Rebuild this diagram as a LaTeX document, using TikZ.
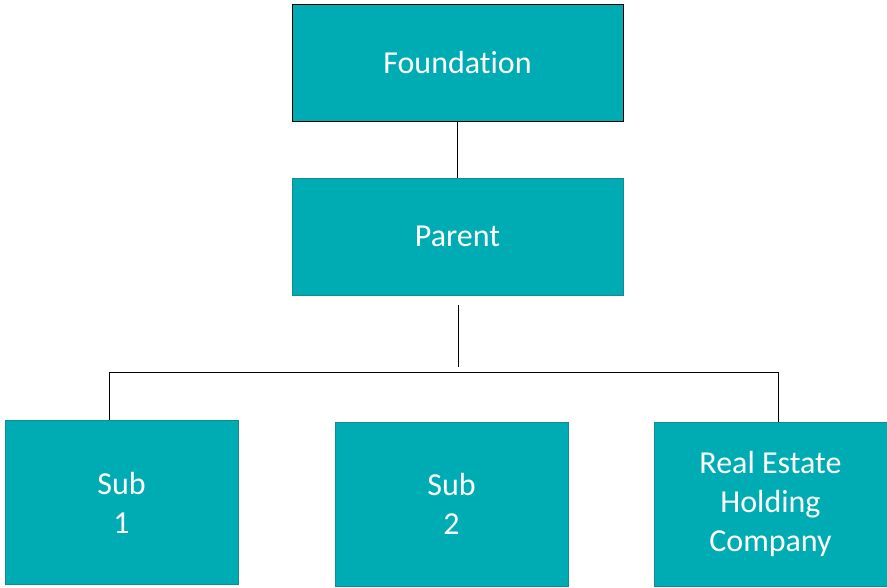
\documentclass[tikz,border=0pt]{standalone}
\usepackage{fontspec}
\setmainfont{Carlito}[Ligatures=NoCommon]
\usepackage{xcolor}
\usepackage{tikz}
\definecolor{tealfill}{RGB}{0,172,180}
\definecolor{tealedge}{RGB}{22,138,146}

\begin{document}
\begin{tikzpicture}[x=1pt, y=-1pt,
    box/.style={draw=tealedge, fill=tealfill, line width=1pt, text=white,
      align=center, inner sep=0pt, font=\fontsize{32}{39}\selectfont},
    wide/.style={box, minimum width=331pt, minimum height=117pt},
    small/.style={box, minimum width=233pt, minimum height=164pt},
    link/.style={line width=1pt}]
      \useasboundingbox (0,0) rectangle (887,587);
      \node[wide, draw=black] (found) at (457.5,62.5) {Foundation};
      \node[wide] (parent) at (457.5,236.5) {Parent};
      \node[small] (subone) at (121.5,502.5) {Sub\\1};
      \node[small] (subtwo) at (451.5,504) {Sub\\2};
      \node[small] (realest) at (770.5,504) {Real Estate\\Holding\\Company};
      \coordinate (stemtop) at (458,305);
      \coordinate (stembot) at (458,367);
      \coordinate (barL) at (109,372);
      \coordinate (barR) at (778,372);
      \draw[link] (found.south) -- (parent.north);
      \draw[link] (stemtop) -- (stembot);
      \draw[link] (barL) -- (barR);
      \draw[link] (barL) -- (barL |- subone.north);
      \draw[link] (barR) -- (barR |- realest.north);
    \end{tikzpicture}
\end{document}
